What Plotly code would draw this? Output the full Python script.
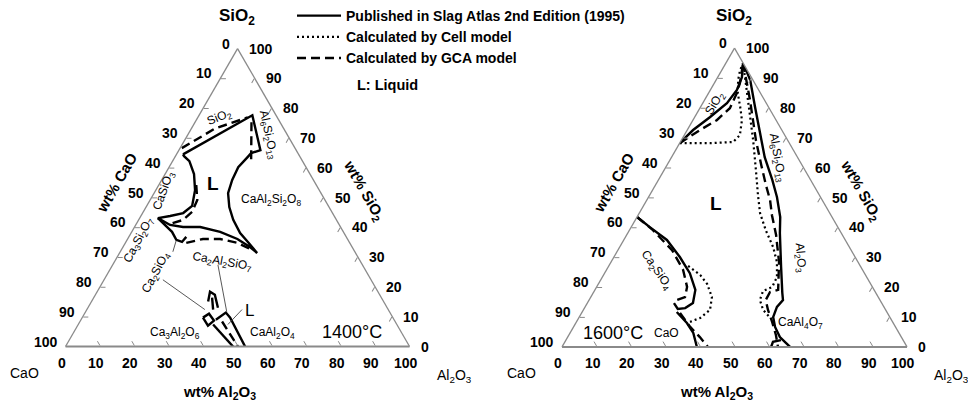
import math
import plotly.graph_objects as go

W, H = 968, 404
FONT = "Liberation Sans, Arial, sans-serif"

# Every boundary point is (SiO2, Al2O3) in wt%; CaO makes up the balance.

# ---------------- 1400 degC isothermal section ----------------
atlas_1400_liquid = [
    (64.5, 1.9), (77.6, 15.5), (65.9, 23.7), (64.9, 21.5), (63.5, 21.1), (60.2, 20.1),
    (55.9, 20.5), (51.5, 21.5), (46.8, 24.2), (42.5, 27.5), (38.1, 31.7), (34.8, 35.8),
    (31.4, 40.0), (33.4, 36.9), (36.1, 31.9), (38.5, 25.7), (40.1, 19.1), (40.1, 14.1),
    (40.8, 10.0), (43.1, 5.3), (43.8, 8.5), (44.8, 11.8), (47.2, 13.2), (52.5, 11.4),
    (57.9, 8.4), (62.2, 4.9), (63.9, 2.5), (64.5, 1.9),
]
atlas_1400_notch = [(43.1, 5.3), (38.5, 11.7), (35.8, 14.3), (35.1, 16.3), (36.8, 16.7)]
atlas_1400_arch = [(15.1, 33.9), (18.4, 32.8), (17.4, 34.7), (13.0, 37.8)]
atlas_1400_arch_inner = [(16.4, 34.4), (12.4, 36.7)]
atlas_1400_c2s_box = [(9.7, 35.1), (11.0, 36.2), (8.7, 38.8), (7.0, 37.9), (9.7, 35.1)]
atlas_1400_c3a_line = [(7.4, 39.2), (0.0, 48.7)]
atlas_1400_ca_strip = [(9.0, 39.2), (11.4, 40.9), (9.7, 43.0), (0.0, 52.2)]

gca_1400_top = [(66.6, 0.5), (73.2, 6.9), (76.9, 14.5)]
gca_1400_side = [(75.3, 16.4), (62.5, 22.7)]
gca_1400_arc = [(54.2, 10.9), (49.2, 13.7), (45.2, 14.2), (42.5, 12.9), (41.1, 9.8)]
gca_1400_lower = [(34.8, 17.7), (36.1, 21.9), (36.1, 26.9), (34.8, 32.6), (32.4, 38.0)]
gca_1400_strip = [(8.4, 41.3), (0.0, 50.1)]

leader_1400_c2s = [(22.4, 17.1), (12.4, 34.3)]
leader_1400_c2as = [(27.4, 30.6), (11.7, 41.0)]
leader_1400_liq = [(12.4, 45.1), (7.4, 43.5)]
leader_1400_notch = [(31.8, 15.3), (35.5, 14.4)]

# ---------------- 1600 degC isothermal section ----------------
atlas_1600_silica = [(68.2, 0.0), (72.6, 1.7), (76.9, 4.4), (81.6, 7.0), (86.0, 7.7),
                     (90.3, 7.0), (95.0, 5.0)]
cell_1600_silica = [(68.2, 0.0), (68.2, 2.1), (68.2, 8.8), (68.6, 15.3), (70.9, 16.1),
                    (75.9, 14.2), (80.3, 11.5), (84.9, 8.5), (89.3, 6.4), (92.6, 5.3), (95.0, 5.0)]
gca_1600_silica = [(68.2, 0.0), (72.6, 3.7), (75.9, 6.9), (79.9, 8.7), (84.9, 8.2),
                   (88.3, 7.4), (95.0, 5.0)]

atlas_1600_alumina = [(95.0, 5.0), (89.3, 9.9), (80.3, 15.8), (71.6, 21.6), (63.5, 27.0),
                      (55.9, 33.0), (50.2, 37.2), (43.5, 41.5), (38.1, 44.1), (26.8, 50.1),
                      (18.1, 54.8), (15.7, 56.2), (13.4, 55.6), (10.0, 56.2), (6.7, 58.4),
                      (3.3, 61.5), (0.0, 66.1)]
atlas_1600_ca2_hook = [(0.0, 60.6), (1.7, 60.3), (2.3, 62.3)]
gca_1600_alumina = [(95.0, 5.0), (82.6, 13.2), (69.2, 21.6), (60.9, 27.3), (54.2, 32.0),
                    (49.2, 35.7), (44.1, 38.8), (37.5, 43.3), (28.4, 48.7), (19.1, 53.1),
                    (18.4, 51.1), (15.7, 51.2), (12.4, 53.5), (8.4, 56.7), (4.0, 60.0), (0.0, 62.6)]
cell_1600_alumina = [(95.0, 5.0), (82.6, 12.6), (69.2, 20.8), (59.2, 26.6), (50.8, 31.4),
                     (44.8, 35.0), (39.1, 39.5), (33.4, 44.5), (28.4, 48.1), (23.4, 50.6),
                     (20.1, 50.9), (18.7, 48.9), (15.7, 49.5), (12.4, 52.1), (9.7, 55.5)]

atlas_1600_c2s = [(43.5, 0.0), (40.1, 5.4), (35.8, 12.5), (30.1, 19.1), (24.7, 24.7),
                  (19.1, 29.1), (14.7, 30.6), (13.0, 29.2), (12.7, 27.2), (14.7, 25.1)]
atlas_1600_lime = [(11.7, 27.4), (8.0, 32.2), (4.7, 35.7), (0.0, 39.1)]
gca_1600_c2s = [(43.5, 0.0), (39.1, 6.8), (32.4, 15.7), (25.8, 22.2), (20.1, 26.2),
                (16.7, 27.3), (15.7, 25.4)]
gca_1600_lime = [(11.4, 28.5), (6.7, 33.8), (3.3, 38.3), (0.0, 42.3)]
cell_1600_c2s = [(27.1, 23.0), (24.1, 28.0), (21.1, 31.5), (16.7, 35.1), (12.4, 36.7),
                 (9.7, 35.2), (8.4, 32.9)]

tick_values = list(range(0, 101, 10))

LINE = {
    "atlas": dict(color="black", width=2.4),
    "cell": dict(color="black", width=2.2, dash="2px,3px"),
    "gca": dict(color="black", width=2.4, dash="9px,5px"),
    "leader": dict(color="#444444", width=0.9),
}
NAME = {
    "atlas": "Published in Slag Atlas 2nd Edition (1995)",
    "cell": "Calculated by Cell model",
    "gca": "Calculated by GCA model",
    "leader": "leader line",
}
RANK = {"atlas": 1, "cell": 2, "gca": 3, "leader": 4}

fig = go.Figure()
in_legend = set()


def add_curve(points, kind, subplot):
    sio2 = [p[0] for p in points]
    al2o3 = [p[1] for p in points]
    cao = [round(100 - s - a, 3) for s, a in points]
    show = kind != "leader" and kind not in in_legend
    in_legend.add(kind)
    fig.add_trace(go.Scatterternary(
        a=sio2, b=cao, c=al2o3, mode="lines", line=LINE[kind], name=NAME[kind],
        legendgroup=kind, legendrank=RANK[kind], showlegend=show,
        subplot=subplot, hoverinfo="skip"))


# 1400 degC panel
for pts in (atlas_1400_liquid, atlas_1400_notch, atlas_1400_arch, atlas_1400_arch_inner,
            atlas_1400_c2s_box, atlas_1400_c3a_line, atlas_1400_ca_strip):
    add_curve(pts, "atlas", "ternary")
for pts in (leader_1400_c2s, leader_1400_c2as, leader_1400_liq, leader_1400_notch):
    add_curve(pts, "leader", "ternary")
for pts in (gca_1400_top, gca_1400_side, gca_1400_arc, gca_1400_lower, gca_1400_strip):
    add_curve(pts, "gca", "ternary")

# 1600 degC panel
for pts in (atlas_1600_silica, atlas_1600_alumina, atlas_1600_ca2_hook,
            atlas_1600_c2s, atlas_1600_lime):
    add_curve(pts, "atlas", "ternary2")
for pts in (cell_1600_silica, cell_1600_alumina, cell_1600_c2s):
    add_curve(pts, "cell", "ternary2")
for pts in (gca_1600_silica, gca_1600_alumina, gca_1600_c2s, gca_1600_lime):
    add_curve(pts, "gca", "ternary2")

DOMAIN_Y = [0.131, 0.891]
DOMAIN_X_1400 = [0.0677, 0.4231]
DOMAIN_X_1600 = [0.5806, 0.9370]


def edge_axis(line_width=1.3):
    # tick marks from plotly; the numbers are written separately so that each
    # edge is read clockwise (CaO on the left, Al2O3 along the base, SiO2 on the right)
    return dict(
        min=0, tickmode="array", tickvals=tick_values, showticklabels=False,
        ticks="inside", ticklen=5, tickcolor="#8a8a8a", tickwidth=1,
        linecolor="#8a8a8a", linewidth=line_width, showgrid=False,
        title=dict(text=""),
    )


def ternary_layout(dx):
    return dict(
        sum=100, bgcolor="white",
        domain=dict(x=dx, y=DOMAIN_Y),
        aaxis=edge_axis(), baxis=edge_axis(2.0), caxis=edge_axis(),
    )


fig.update_layout(
    width=W, height=H,
    margin=dict(l=0, r=0, t=0, b=0),
    paper_bgcolor="white",
    ternary=ternary_layout(DOMAIN_X_1400),
    ternary2=ternary_layout(DOMAIN_X_1600),
    showlegend=True,
    legend=dict(
        x=292 / W, y=1, xanchor="left", yanchor="top",
        bgcolor="rgba(0,0,0,0)", itemwidth=44, tracegroupgap=0,
        font=dict(family=FONT, size=14, color="black", weight="bold"),
    ),
)


def label(text, x, y, size=12, angle=0, bold=False, xanchor="center"):
    fig.add_annotation(
        text=f"<b>{text}</b>" if bold else text,
        x=x / W, y=1 - y / H, xref="paper", yref="paper",
        xanchor=xanchor, yanchor="middle", showarrow=False, textangle=angle,
        font=dict(family=FONT, size=size, color="black"),
    )


def triangle_px(dx, dy):
    """Pixel frame (x0, y0, w, h) of a ternary subplot, as plotly fits it in its domain."""
    w_over_h = 2 / math.sqrt(3)
    wmax = (dx[1] - dx[0]) * W
    hmax = (dy[1] - dy[0]) * H
    if wmax > w_over_h * hmax:
        h = hmax
        w = h * w_over_h
    else:
        w = wmax
        h = w / w_over_h
    xc = (dx[0] + dx[1]) / 2 * W
    yc = (1 - (dy[0] + dy[1]) / 2) * H
    return xc - w / 2, yc - h / 2, w, h


def to_px(frame, sio2, al2o3):
    x0, y0, w, h = frame
    return x0 + w * al2o3 / 100 + w / 2 * sio2 / 100, y0 + h * (1 - sio2 / 100)


def edge_numbers(frame):
    for v in tick_values:
        # left edge: wt% CaO, growing towards the CaO corner
        x, y = to_px(frame, 100 - v, 0)
        label(str(v), x - 6, y - 5, size=14, bold=True, xanchor="right")
        # base: wt% Al2O3
        x, y = to_px(frame, 0, v)
        label(str(v), x - 4, y + 16, size=14, bold=True)
        # right edge: wt% SiO2
        x, y = to_px(frame, v, 100 - v)
        label(str(v), x + 9, y, size=14, bold=True, xanchor="left")


edge_numbers(triangle_px(DOMAIN_X_1400, DOMAIN_Y))
edge_numbers(triangle_px(DOMAIN_X_1600, DOMAIN_Y))

SIO2 = "SiO<sub>2</sub>"
AL2O3 = "Al<sub>2</sub>O<sub>3</sub>"

# Corner and edge titles for both panels
for dx in (0, 497):
    label(SIO2, 237 + dx, 17, size=17, bold=True)
    label("wt% CaO", 117 + dx, 183, size=15, angle=-60, bold=True)
    label("wt% " + SIO2, 364 + dx, 190, size=15, angle=60, bold=True)
    label("wt% " + AL2O3, 219 + dx, 392, size=15, bold=True)
    label("CaO", 24 + dx, 373, size=14)
    label(AL2O3, 454 + dx, 376, size=14)

label("L: Liquid", 387, 85, size=14.5, bold=True)

# Phase-field labels, 1400 degC
label("1400°C", 352, 332, size=18)
label("L", 213, 184, size=19, bold=True)
label("L", 250, 310, size=17)
label(SIO2, 219, 118, size=12, angle=-22)
label("Al<sub>6</sub>Si<sub>2</sub>O<sub>13</sub>", 268, 135, size=12, angle=78)
label("CaAl<sub>2</sub>Si<sub>2</sub>O<sub>8</sub>", 271, 200, size=12)
label("CaSiO<sub>3</sub>", 164, 191, size=12, angle=-70)
label("Ca<sub>3</sub>Si<sub>2</sub>O<sub>7</sub>", 139, 240, size=12, angle=-62)
label("Ca<sub>2</sub>SiO<sub>4</sub>", 156, 273, size=12, angle=-62)
label("Ca<sub>2</sub>Al<sub>2</sub>SiO<sub>7</sub>", 222, 262, size=12, angle=10)
label("Ca<sub>3</sub>Al<sub>2</sub>O<sub>6</sub>", 175, 333, size=12)
label("CaAl<sub>2</sub>O<sub>4</sub>", 272, 333, size=12)

# Phase-field labels, 1600 degC
label("1600°C", 613, 333, size=18)
label("CaO", 666, 333, size=12)
label("L", 716, 203, size=19, bold=True)
label(SIO2, 715, 104, size=12, angle=-58)
label("Al<sub>6</sub>Si<sub>2</sub>O<sub>13</sub>", 777, 158, size=12, angle=80)
label("Ca<sub>2</sub>SiO<sub>4</sub>", 656, 270, size=12, angle=55)
label(AL2O3, 800, 258, size=12, angle=85)
label("CaAl<sub>4</sub>O<sub>7</sub>", 800, 323, size=12)

fig.write_html("out.html")
